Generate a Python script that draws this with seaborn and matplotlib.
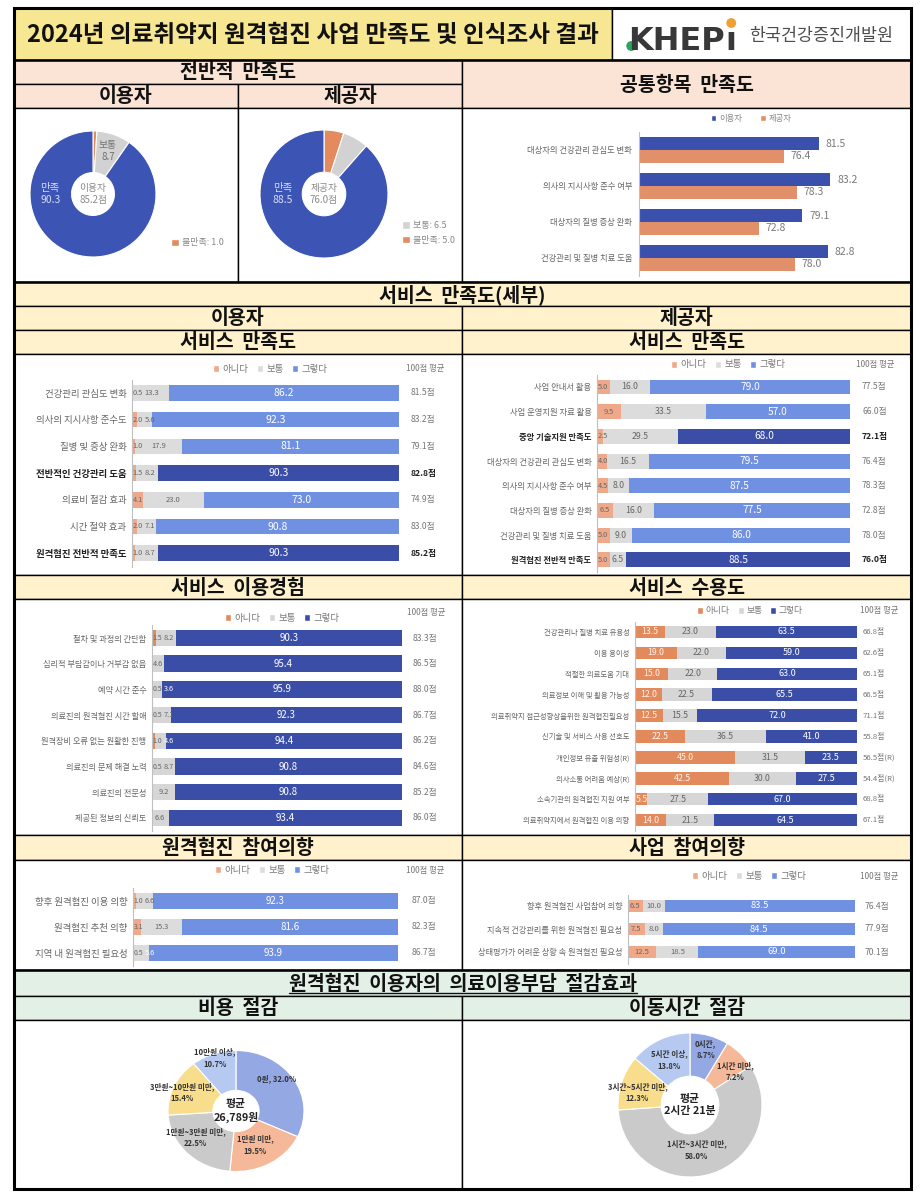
import matplotlib
matplotlib.use('Agg')
import matplotlib.pyplot as plt
import matplotlib.transforms as mtrans
from matplotlib.patches import Rectangle, Patch, Circle
import numpy as np
import pandas as pd
import seaborn as sns

sns.set_theme(style='white')
plt.rcParams['font.family'] = ['Noto Sans CJK KR', 'DejaVu Sans']
plt.rcParams['axes.unicode_minus'] = False

# ---------------- data ----------------
overall_labels = ['불만족', '보통', '만족']
overall_user = [1.0, 8.7, 90.3]
overall_prov = [5.0, 6.5, 88.5]
overall_user_center = '이용자\n85.2점'
overall_prov_center = '제공자\n76.0점'

common_items = ['대상자의 건강관리 관심도 변화', '의사의 지시사항 준수 여부',
                '대상자의 질병 증상 완화', '건강관리 및 질병 치료 도움']
common_user = [81.5, 83.2, 79.1, 82.8]
common_prov = [76.4, 78.3, 72.8, 78.0]

us_items = ['건강관리 관심도 변화', '의사의 지시사항 준수도', '질병 및 증상 완화',
            '전반적인 건강관리 도움', '의료비 절감 효과', '시간 절약 효과', '원격협진 전반적 만족도']
us_no = [0.5, 2.0, 1.0, 1.5, 4.1, 2.0, 1.0]
us_mid = [13.3, 5.6, 17.9, 8.2, 23.0, 7.1, 8.7]
us_yes = [86.2, 92.3, 81.1, 90.3, 73.0, 90.8, 90.3]
us_score = ['81.5점', '83.2점', '79.1점', '82.8점', '74.9점', '83.0점', '85.2점']
us_bold = [3, 6]

ps_items = ['사업 안내서 활용', '사업 운영지원 자료 활용', '중앙 기술지원 만족도',
            '대상자의 건강관리 관심도 변화', '의사의 지시사항 준수 여부', '대상자의 질병 증상 완화',
            '건강관리 및 질병 치료 도움', '원격협진 전반적 만족도']
ps_no = [5.0, 9.5, 2.5, 4.0, 4.5, 6.5, 5.0, 5.0]
ps_mid = [16.0, 33.5, 29.5, 16.5, 8.0, 16.0, 9.0, 6.5]
ps_yes = [79.0, 57.0, 68.0, 79.5, 87.5, 77.5, 86.0, 88.5]
ps_score = ['77.5점', '66.0점', '72.1점', '76.4점', '78.3점', '72.8점', '78.0점', '76.0점']
ps_bold = [2, 7]

ux_items = ['절차 및 과정의 간단함', '심리적 부담감이나 거부감 없음', '예약 시간 준수',
            '의료진의 원격협진 시간 할애', '원격장비 오류 없는 원활한 진행', '의료진의 문제 해결 노력',
            '의료진의 전문성', '제공된 정보의 신뢰도']
ux_no = [1.5, 0.0, 0.5, 0.5, 1.0, 0.5, 0.0, 0.0]
ux_mid = [8.2, 4.6, 3.6, 7.1, 4.6, 8.7, 9.2, 6.6]
ux_yes = [90.3, 95.4, 95.9, 92.3, 94.4, 90.8, 90.8, 93.4]
ux_score = ['83.3점', '86.5점', '88.0점', '86.7점', '86.2점', '84.6점', '85.2점', '86.0점']

pa_items = ['건강관리나 질병 치료 유용성', '이용 용이성', '적절한 의료도움 기대',
            '의료정보 이해 및 활용 가능성', '의료취약지 접근성향상을위한 원격협진필요성',
            '신기술 및 서비스 사용 선호도', '개인정보 유출 위험성(R)', '의사소통 어려움 예상(R)',
            '소속기관의 원격협진 지원 여부', '의료취약지에서 원격협진 이용 의향']
pa_no = [13.5, 19.0, 15.0, 12.0, 12.5, 22.5, 45.0, 42.5, 5.5, 14.0]
pa_mid = [23.0, 22.0, 22.0, 22.5, 15.5, 36.5, 31.5, 30.0, 27.5, 21.5]
pa_yes = [63.5, 59.0, 63.0, 65.5, 72.0, 41.0, 23.5, 27.5, 67.0, 64.5]
pa_score = ['66.8점', '62.6점', '65.1점', '66.5점', '71.1점', '55.8점', '56.5점(R)', '54.4점(R)',
            '68.8점', '67.1점']

ui_items = ['향후 원격협진 이용 의향', '원격협진 추천 의향', '지역 내 원격협진 필요성']
ui_no = [1.0, 3.1, 0.5]
ui_mid = [6.6, 15.3, 5.6]
ui_yes = [92.3, 81.6, 93.9]
ui_score = ['87.0점', '82.3점', '86.7점']

bi_items = ['향후 원격협진 사업참여 의향', '지속적 건강관리를 위한 원격협진 필요성',
            '상태평가가 어려운 상황 속 원격협진 필요성']
bi_no = [6.5, 7.5, 12.5]
bi_mid = [10.0, 8.0, 18.5]
bi_yes = [83.5, 84.5, 69.0]
bi_score = ['76.4점', '77.9점', '70.1점']

cost_labels = ['0원', '1만원 미만', '1만원~3만원 미만', '3만원~10만원 미만', '10만원 이상']
cost_vals = [32.0, 19.5, 22.5, 15.4, 10.7]
cost_center = '평균\n26,789원'
time_labels = ['0시간', '1시간 미만', '1시간~3시간 미만', '3시간~5시간 미만', '5시간 이상']
time_vals = [8.7, 7.2, 58.0, 12.3, 13.8]
time_center = '평균\n2시간 21분'

resp_labels = ['아니다', '보통', '그렇다']

# label placement styles for the bottom donuts (radius fraction, clockwise angle shift)
cost_lab_r = [0.80, 0.63, 0.74, 0.85, 0.93]
cost_lab_shift = [-9, 3, 8, -3, 0]
time_lab_r = [0.80, 0.78, 0.63, 0.75, 0.69]
time_lab_shift = [0, 9, 10, -5, 0]

# ---------------- colours ----------------
C_TITLE = '#F7E793'
C_BEIGE = '#FBE4D5'
C_YEL = '#FFF2CC'
C_GREEN = '#E2F0E6'
PIE_BLUE, PIE_GRAY, PIE_ORANGE = '#3C55B4', '#D2D2D2', '#E38B5E'
CM_BLUE, CM_ORANGE = '#3B50AC', '#E2906A'
L_NO, L_MID, L_YES, D_YES = '#EFA98A', '#DCDCDC', '#7090E2', '#3A4EA8'
S_NO, S_MID = '#E38A5C', '#D6D6D6'
BOT_COLORS = ['#94A8E4', '#F5B898', '#CACACA', '#F7DD8C', '#B6C9F0']

W, H = 922, 1194
fig = plt.figure(figsize=(W / 100, H / 100), dpi=100)
fig.patch.set_facecolor('white')

bg = fig.add_axes([0, 0, 1, 1], zorder=0)
bg.set_xlim(0, W)
bg.set_ylim(H, 0)
bg.axis('off')


def px_axes(x0, y0, x1, y1, z=2):
    ax = fig.add_axes([x0 / W, 1 - y1 / H, (x1 - x0) / W, (y1 - y0) / H], zorder=z)
    ax.patch.set_alpha(0)
    return ax


def band(x0, y0, x1, y1, color, text=None, fs=14, lw=1.0):
    bg.add_patch(Rectangle((x0, y0), x1 - x0, y1 - y0, facecolor=color,
                           edgecolor='black', lw=lw, zorder=1))
    t = None
    if text:
        t = bg.text((x0 + x1) / 2, (y0 + y1) / 2 + 1, text, ha='center', va='center',
                    fontsize=fs, fontweight='bold', color='#111111', zorder=3)
    return t


L, M, R = 14, 462, 911
band(L, 8, 612, 60, C_TITLE, '2024년 의료취약지 원격협진 사업 만족도 및 인식조사 결과', fs=17)
band(612, 8, R, 60, 'white')
band(L, 60, M, 84, C_BEIGE, '전반적  만족도')
band(L, 84, 238, 108, C_BEIGE, '이용자')
band(238, 84, M, 108, C_BEIGE, '제공자')
band(M, 60, R, 108, C_BEIGE, '공통항목  만족도')
band(L, 108, 238, 282, 'white')
band(238, 108, M, 282, 'white')
band(M, 108, R, 282, 'white')
band(L, 282, R, 306, C_YEL, '서비스  만족도(세부)')
band(L, 306, M, 330, C_YEL, '이용자')
band(M, 306, R, 330, C_YEL, '제공자')
band(L, 330, M, 354, C_YEL, '서비스  만족도')
band(M, 330, R, 354, C_YEL, '서비스  만족도')
band(L, 354, M, 575, 'white')
band(M, 354, R, 575, 'white')
band(L, 575, M, 599, C_YEL, '서비스  이용경험')
band(M, 575, R, 599, C_YEL, '서비스  수용도')
band(L, 599, M, 835, 'white')
band(M, 599, R, 835, 'white')
band(L, 835, M, 860, C_YEL, '원격협진  참여의향')
band(M, 835, R, 860, C_YEL, '사업  참여의향')
band(L, 860, M, 970, 'white')
band(M, 860, R, 970, 'white')
t_bottom = band(L, 970, R, 996, C_GREEN, '원격협진  이용자의  의료이용부담  절감효과')
band(L, 996, M, 1020, C_GREEN, '비용  절감')
band(M, 996, R, 1020, C_GREEN, '이동시간  절감')
band(L, 1020, M, 1189, 'white')
band(M, 1020, R, 1189, 'white')
for yy in (60, 282, 970):
    bg.plot([L, R], [yy, yy], color='black', lw=1.8, zorder=4)
bg.add_patch(Rectangle((L, 8), R - L, 1189 - 8, facecolor='none', edgecolor='black', lw=2.2, zorder=5))

# logo
k_txt = fig.text(628 / W, 1 - 50 / H, 'KHEP', fontsize=23, fontweight='bold',
                 family='DejaVu Sans', color='#383838', ha='left', va='baseline', zorder=6)
fig.text(749 / W, 1 - 36 / H, '한국건강증진개발원', fontsize=12.5, color='#4D4D4D',
         ha='left', va='center', zorder=6)
fig.canvas.draw()
bb = k_txt.get_window_extent()
i_txt = fig.text((bb.x1 + 1.0) / W, 1 - 50 / H, 'ı', fontsize=23, fontweight='bold',
                 family='DejaVu Sans', color='#383838', ha='left', va='baseline', zorder=6)
fig.canvas.draw()
bi_bb = i_txt.get_window_extent()
bg.add_patch(Circle(((bi_bb.x0 + bi_bb.x1) / 2, 23), 4.2, color='#F0A030', zorder=6))
bg.add_patch(Circle((bb.x0 + 3.2, 46), 4.2, color='#2FA35A', zorder=7))
tb = t_bottom.get_window_extent()
bg.plot([tb.x0, tb.x1], [H - tb.y0 - 1, H - tb.y0 - 1], color='#111111', lw=1.0, zorder=4)


# ---------------- donut helpers ----------------
def donut(cx, cy, rx, ry, vals, colors, width, edge='white'):
    ax = px_axes(cx - rx, cy - ry, cx + rx, cy + ry)
    wedges, _ = ax.pie(vals, colors=colors, startangle=90, counterclock=False, radius=1,
                       wedgeprops=dict(width=width, edgecolor=edge, linewidth=0.8))
    ax.set_xlim(-1, 1)
    ax.set_ylim(-1, 1)
    ax.set_aspect('auto')
    return ax, wedges


def mid_pos(w, r, shift=0.0):
    th = np.deg2rad((w.theta1 + w.theta2) / 2 - shift)
    return r * np.cos(th), r * np.sin(th)


pie_cols = [PIE_ORANGE, PIE_GRAY, PIE_BLUE]
ax, wd = donut(93, 194, 63, 63, overall_user, pie_cols, 0.66)
x, y = mid_pos(wd[1], 0.72)
ax.text(x, y, f'{overall_labels[1]}\n{overall_user[1]:.1f}', ha='center', va='center',
        fontsize=7, color='#707070', linespacing=1.2)
ax.text(-0.68, 0.0, f'{overall_labels[2]}\n{overall_user[2]:.1f}', ha='center', va='center',
        fontsize=7.5, color='#D5DCF2', linespacing=1.2)
ax.text(0, 0, overall_user_center, ha='center', va='center', fontsize=7, color='#8A8A8A', linespacing=1.2)
fig.legend(handles=[Patch(facecolor=PIE_ORANGE)], labels=[f'{overall_labels[0]}: {overall_user[0]:.1f}'],
           loc='center left', bbox_to_anchor=(163 / W, 1 - 243 / H), frameon=False, fontsize=6.5,
           handlelength=0.9, handleheight=0.9, handletextpad=0.3, labelcolor='#888888')

ax, wd = donut(324, 194, 64, 64, overall_prov, pie_cols, 0.66)
ax.text(-0.64, 0.0, f'{overall_labels[2]}\n{overall_prov[2]:.1f}', ha='center', va='center',
        fontsize=7.5, color='#D5DCF2', linespacing=1.2)
ax.text(0, 0, overall_prov_center, ha='center', va='center', fontsize=7, color='#8A8A8A', linespacing=1.2)
fig.legend(handles=[Patch(facecolor=PIE_GRAY), Patch(facecolor=PIE_ORANGE)],
           labels=[f'{overall_labels[1]}: {overall_prov[1]:.1f}', f'{overall_labels[0]}: {overall_prov[0]:.1f}'],
           loc='center left', bbox_to_anchor=(394 / W, 1 - 233 / H), frameon=False, fontsize=6.5,
           handlelength=0.9, handleheight=0.9, handletextpad=0.3, labelspacing=0.6, labelcolor='#888888')

# ---------------- common items ----------------
ax = px_axes(639, 132, 905, 276)
df_c = pd.DataFrame({'item': common_items * 2,
                     'group': ['이용자'] * 4 + ['제공자'] * 4,
                     'value': common_user + common_prov})
sns.barplot(data=df_c, x='value', y='item', hue='group', hue_order=['이용자', '제공자'],
            palette=[CM_BLUE, CM_ORANGE], order=common_items, width=0.72, saturation=1,
            errorbar=None, ax=ax, orient='h', legend=False, linewidth=0)
ax.set_xlim(55.3, 94.1)
ax.set_ylim(3.5, -0.5)
for c in ax.containers:
    ax.bar_label(c, fmt='%.1f', padding=5, fontsize=7.5, color='#7A7A7A')
ax.set_xlabel('')
ax.set_ylabel('')
ax.set_xticks([])
ax.tick_params(axis='y', length=0, pad=5, labelsize=6, labelcolor='#666666')
for s in ['top', 'right', 'bottom']:
    ax.spines[s].set_visible(False)
ax.spines['left'].set_color('#BFBFBF')
ax.spines['left'].set_linewidth(0.8)
fig.legend(handles=[Patch(facecolor=CM_BLUE), Patch(facecolor=CM_ORANGE)], labels=['이용자', '제공자'],
           loc='center', bbox_to_anchor=(751 / W, 1 - 118 / H), ncol=2, frameon=False, fontsize=6,
           handlelength=0.7, handleheight=0.7, handletextpad=0.3, columnspacing=2.2, labelcolor='#888888')


# ---------------- stacked charts ----------------
def txt_w(s, fs):
    units = sum(0.28 if ch == '.' else 0.56 for ch in s)
    return units * fs * 100 / 72


def stacked(cats, no, mid, yes, scores, x0, x1, y_first, spacing, bar_w, c_no, c_mid, c_yes,
            c_bold=None, bold=(), cat_fs=6, seg_fs=(5.5, 5.5, 7.5), seg_col=('#666666', '#666666', 'white'),
            score_fs=6, score_x=0, head=(0, 0), leg=(0, 0), leg_fs=6.5):
    n = len(cats)
    top = y_first - spacing / 2
    ax = px_axes(x0, top, x1, top + n * spacing)
    no, mid, yes = np.array(no), np.array(mid), np.array(yes)
    df = pd.DataFrame({'item': cats, 'c1': no, 'c2': no + mid, 'c3': no + mid + yes})
    pal = {c: (c_bold if (i in bold and c_bold) else c_yes) for i, c in enumerate(cats)}
    sns.barplot(data=df, x='c3', y='item', hue='item', palette=pal, order=cats, hue_order=cats,
                width=bar_w, saturation=1, errorbar=None, legend=False, ax=ax, linewidth=0, orient='h')
    sns.barplot(data=df, x='c2', y='item', color=c_mid, order=cats, width=bar_w, saturation=1,
                errorbar=None, ax=ax, linewidth=0, orient='h')
    sns.barplot(data=df, x='c1', y='item', color=c_no, order=cats, width=bar_w, saturation=1,
                errorbar=None, ax=ax, linewidth=0, orient='h')
    ax.set_xlim(0, 100)
    ax.set_ylim(n - 0.5, -0.5)
    ax.set_xlabel('')
    ax.set_ylabel('')
    ax.set_xticks([])
    ax.set_yticks(range(n))
    ax.set_yticklabels(cats)
    ax.tick_params(axis='y', length=0, pad=4, labelsize=cat_fs, labelcolor='#666666')
    for i, lab in enumerate(ax.get_yticklabels()):
        if i in bold:
            lab.set_fontweight('bold')
            lab.set_color('#222222')
    for s in ['top', 'right', 'bottom']:
        ax.spines[s].set_visible(False)
    ax.spines['left'].set_color('#BFBFBF')
    ax.spines['left'].set_linewidth(0.8)
    ppu = (x1 - x0) / 100.0
    for i in range(n):
        starts = [0, no[i], no[i] + mid[i]]
        prev_right = -1.0
        for j, v in enumerate([no[i], mid[i], yes[i]]):
            if v <= 0:
                continue
            s = f'{v:.1f}'
            w = txt_w(s, seg_fs[j])
            c = (starts[j] + v / 2) * ppu
            left = c - w / 2
            col = seg_col[j]
            if j < 2:
                left = max(left, prev_right + 1.5, 0.8)
                seg_end = (no[i] + mid[i]) * ppu
                if left + w / 2 > seg_end:
                    col = 'white'
            prev_right = left + w
            ax.text(left / ppu, i, s, ha='left', va='center', fontsize=seg_fs[j], color=col)
    tr = mtrans.blended_transform_factory(fig.transFigure, ax.transData)
    for i, s in enumerate(scores):
        ax.text(score_x / W, i, s, transform=tr, ha='left', va='center', fontsize=score_fs,
                color='#222222' if i in bold else '#777777',
                fontweight='bold' if i in bold else 'normal', clip_on=False)
    bg.text(head[0], head[1], '100점 평균', ha='center', va='center', fontsize=6, color='#777777', zorder=3)
    fig.legend(handles=[Patch(facecolor=c_no), Patch(facecolor=c_mid), Patch(facecolor=c_yes)],
               labels=resp_labels, loc='center', bbox_to_anchor=(leg[0] / W, 1 - leg[1] / H), ncol=3,
               frameon=False, fontsize=leg_fs, handlelength=0.7, handleheight=0.7, handletextpad=0.3,
               columnspacing=0.9, labelcolor='#777777')
    return ax


stacked(us_items, us_no, us_mid, us_yes, us_score, 132, 399, 393, 26.7, 0.58, L_NO, L_MID, L_YES,
        c_bold=D_YES, bold=us_bold, cat_fs=6.8, seg_fs=(5.3, 5.5, 7.5), score_fs=6.2, score_x=411,
        head=(425, 369), leg=(270, 369), leg_fs=6.8)
stacked(ps_items, ps_no, ps_mid, ps_yes, ps_score, 597, 850, 387, 24.7, 0.6, L_NO, L_MID, L_YES,
        c_bold=D_YES, bold=ps_bold, cat_fs=6, seg_fs=(5.3, 6.3, 7.3), score_fs=6.2, score_x=862,
        head=(875, 365), leg=(728, 365), leg_fs=6.8)
stacked(ux_items, ux_no, ux_mid, ux_yes, ux_score, 152, 402, 638, 25.7, 0.64, S_NO, S_MID, D_YES,
        cat_fs=5.9, seg_fs=(5.0, 5.3, 7), score_fs=6.2, score_x=413, head=(426, 612), leg=(282, 618),
        leg_fs=6.8)
stacked(pa_items, pa_no, pa_mid, pa_yes, pa_score, 635, 857, 632, 20.9, 0.6, S_NO, S_MID, D_YES,
        cat_fs=5.3, seg_fs=(6.3, 6.3, 6.5), seg_col=('#FFF3EC', '#666666', 'white'), score_fs=5.6,
        score_x=863, head=(879, 611), leg=(750, 611), leg_fs=6.3)
stacked(ui_items, ui_no, ui_mid, ui_yes, ui_score, 133, 398, 901, 26, 0.6, L_NO, L_MID, L_YES,
        cat_fs=6.8, seg_fs=(5.0, 5.3, 7), score_fs=6.2, score_x=412, head=(425, 870), leg=(272, 870),
        leg_fs=6.8)
stacked(bi_items, bi_no, bi_mid, bi_yes, bi_score, 628, 855, 906, 23, 0.55, L_NO, L_MID, L_YES,
        cat_fs=5.9, seg_fs=(5.5, 5.5, 6.8), score_fs=6.2, score_x=865, head=(879, 876), leg=(749, 876),
        leg_fs=6.8)


# ---------------- bottom donuts ----------------
def bottom_donut(cx, cy, rx, ry, labels, vals, width, center, radii, shifts):
    ax, wd = donut(cx, cy, rx, ry, vals, BOT_COLORS, width, edge='white')
    for w, lab, v, r, sh in zip(wd, labels, vals, radii, shifts):
        x, y = mid_pos(w, r, sh)
        sep = ' ' if len(lab) <= 2 else '\n'
        ax.text(x, y, f'{lab},{sep}{v:.1f}%', ha='center', va='center', fontsize=5.5,
                color='#333333', fontweight='bold', linespacing=1.5)
    ax.text(0, 0, center, ha='center', va='center', fontsize=7.8, color='#222222',
            fontweight='bold', linespacing=1.3)


bottom_donut(236, 1111, 68, 60.5, cost_labels, cost_vals, 0.66, cost_center, cost_lab_r, cost_lab_shift)
bottom_donut(690, 1105, 72, 72, time_labels, time_vals, 0.6, time_center, time_lab_r, time_lab_shift)

fig.savefig('out.png', dpi=100, facecolor='white')
